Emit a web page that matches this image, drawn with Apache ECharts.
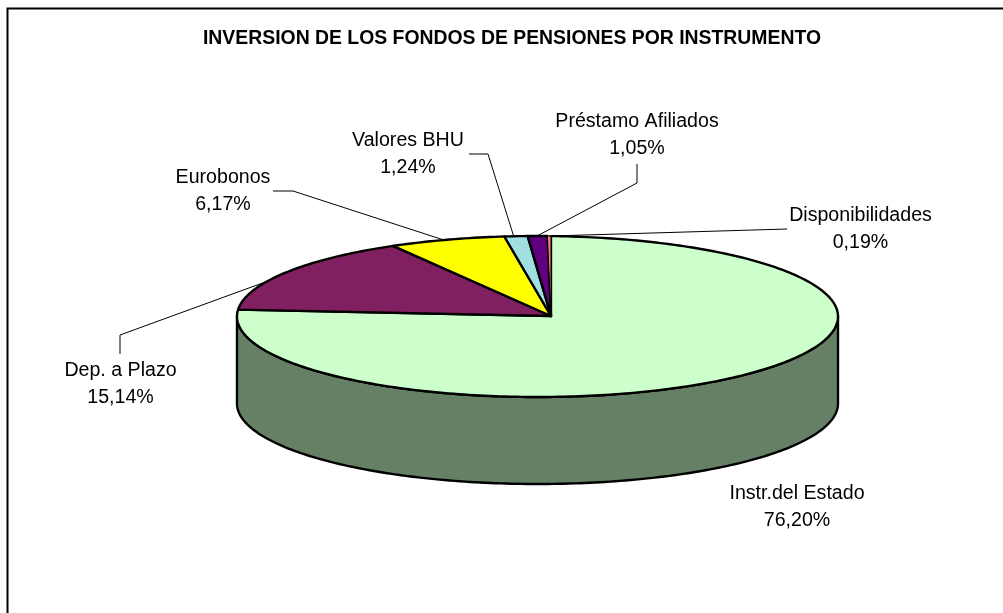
<!DOCTYPE html>
<html>
<head>
<meta charset="utf-8">
<style>
	html, body { margin: 0; padding: 0; background: #fff; }
	#chart { width: 1003px; height: 613px; }
</style>
<script src="https://cdn.jsdelivr.net/npm/echarts@6/dist/echarts.min.js"></script>
</head>
<body>
<div id="chart"></div>
<script>
	// datos, en sentido horario desde las 12
	const categories = ['Instr.del Estado', 'Dep. a Plazo', 'Eurobonos', 'Valores BHU', 'Préstamo Afiliados', 'Disponibilidades'];
	const shares = [76.20, 15.14, 6.17, 1.24, 1.05, 0.19];
	const sliceColors = ['#CCFFCC', '#802060', '#FFFF00', '#A0E0E0', '#600080', '#FF8080'];
	const wallColor = '#668066';
	const titleText = 'INVERSION DE LOS FONDOS DE PENSIONES POR INSTRUMENTO';

	// geometria del disco
	const disc = { cx: 537.5, cy: 316.5, rx: 300.5, ry: 80.5, depth: 87, apexX: 551, apexY: 316 };
	// etiquetas: centro del texto, codo de la guia y punto del arco (fraccion de la porcion)
	const labelLayout = [
		{ x: 797, y: 507, guide: null },
		{ x: 120.5, y: 384.5, guide: [[120, 354], [120, 335]], rimAt: 0.37 },
		{ x: 223, y: 191.5, guide: [[273, 191], [293, 191]], rimAt: 0.47 },
		{ x: 408, y: 154.5, guide: [[469, 154], [488, 154]], rimAt: 0.4 },
		{ x: 637, y: 135, guide: [[637, 164], [637, 183]], rimAt: 0.47 },
		{ x: 860.5, y: 229, guide: [[787, 229]], rimAt: 0.5 }
	];

	const total = shares.reduce((acc, cur) => acc + cur, 0);

	// el vertice no cae en el centro de la elipse: se corta el rayo con el borde
	function rimPoint(angle) {
		const dx = Math.sin(angle) * disc.rx;
		const dy = -Math.cos(angle) * disc.ry;
		const ox = disc.apexX - disc.cx;
		const oy = disc.apexY - disc.cy;
		const a = (dx * dx) / (disc.rx * disc.rx) + (dy * dy) / (disc.ry * disc.ry);
		const b = 2 * ((ox * dx) / (disc.rx * disc.rx) + (oy * dy) / (disc.ry * disc.ry));
		const c = (ox * ox) / (disc.rx * disc.rx) + (oy * oy) / (disc.ry * disc.ry) - 1;
		const k = (-b + Math.sqrt(b * b - 4 * a * c)) / (2 * a);
		return [disc.apexX + dx * k, disc.apexY + dy * k];
	}

	function wallPoints() {
		const upper = [];
		const lower = [];
		for (let deg = 0; deg <= 180; deg++) {
			const t = deg * Math.PI / 180;
			const x = disc.cx + disc.rx * Math.cos(t);
			const y = disc.cy + disc.ry * Math.sin(t);
			upper.push([x, y]);
			lower.unshift([x, y + disc.depth]);
		}
		return upper.concat(lower);
	}

	function sliceAngles(index) {
		let before = 0;
		for (let i = 0; i < index; i++) {
			before += shares[i];
		}
		const start = before / total * Math.PI * 2;
		return [start, start + shares[index] / total * Math.PI * 2];
	}

	function renderSlice(params, api) {
		const index = params.dataIndex;
		const share = api.value(0);
		const angles = sliceAngles(index);
		const children = [];
		// la porcion mas chica lleva trazo fino, si no el relleno no se ve
		const outline = { stroke: '#000', lineWidth: index === 5 ? 1 : 2.4, lineJoin: 'round' };

		if (index === 0) {
			children.push({
				type: 'polygon',
				shape: { points: wallPoints() },
				style: Object.assign({ fill: wallColor }, outline)
			});
		}

		const points = [[disc.apexX, disc.apexY]];
		const steps = Math.max(2, Math.ceil((angles[1] - angles[0]) * 180 / Math.PI));
		for (let i = 0; i <= steps; i++) {
			points.push(rimPoint(angles[0] + (angles[1] - angles[0]) * i / steps));
		}
		children.push({
			type: 'polygon',
			shape: { points: points },
			style: Object.assign({ fill: sliceColors[index] }, outline)
		});

		const layout = labelLayout[index];
		if (layout.guide) {
			const end = rimPoint(angles[0] + (angles[1] - angles[0]) * layout.rimAt);
			children.push({
				type: 'polyline',
				shape: { points: layout.guide.concat([end]) },
				style: { stroke: '#000', lineWidth: 1, fill: null }
			});
		}
		children.push({
			type: 'text',
			style: {
				x: layout.x,
				y: layout.y,
				text: categories[index] + '\n' + share.toFixed(2).replace('.', ',') + '%',
				fill: '#000',
				font: '19.6px "Liberation Sans", Arial, sans-serif',
				lineHeight: 27,
				align: 'center',
				verticalAlign: 'middle'
			}
		});
		return { type: 'group', children: children };
	}

	const myChart = echarts.init(document.getElementById('chart'), null, { renderer: 'canvas' });
	myChart.setOption({
		animation: false,
		backgroundColor: '#fff',
		title: {
			text: titleText,
			left: 507,
			top: 24,
			textAlign: 'center',
			textStyle: {
				color: '#000',
				fontFamily: '"Liberation Sans", Arial, sans-serif',
				fontSize: 19.4,
				fontWeight: 'bold'
			}
		},
		graphic: [{
			type: 'polyline',
			shape: { points: [[7.5, 613], [7.5, 8.5], [1003, 8.5]] },
			style: { stroke: '#000', lineWidth: 2, fill: null }
		}],
		series: [{
			type: 'custom',
			coordinateSystem: 'none',
			silent: true,
			clip: false,
			data: shares.map(v => [v]),
			renderItem: renderSlice
		}]
	});
</script>
</body>
</html>
